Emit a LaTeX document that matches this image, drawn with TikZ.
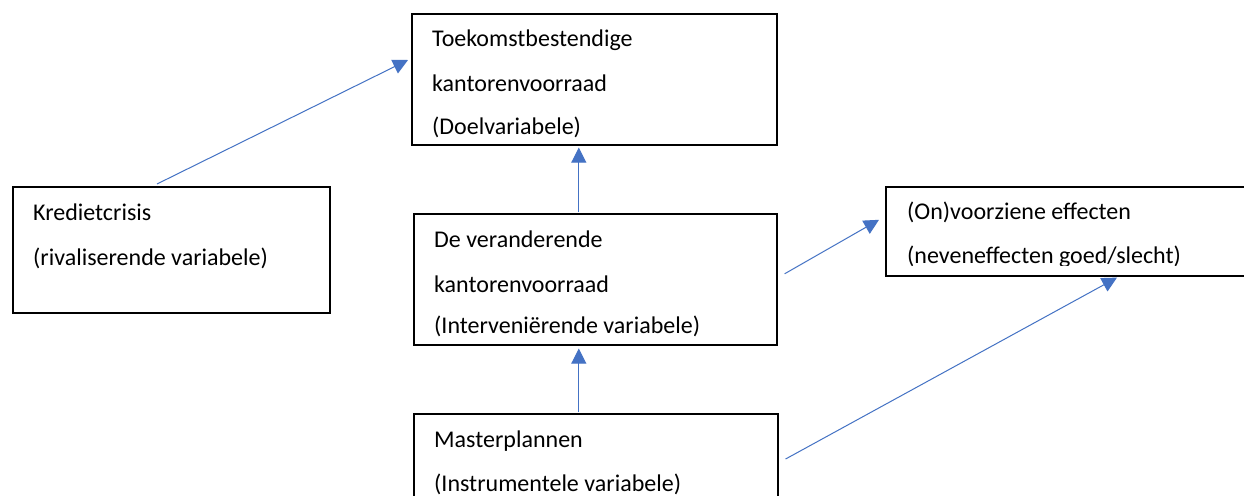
\documentclass[tikz,border=0pt]{standalone}
\usepackage{fontspec}
\setmainfont{Carlito}
\usetikzlibrary{arrows.meta}
\definecolor{wordblue}{HTML}{4472C4}
\begin{document}
\begin{tikzpicture}[x=1pt,y=-1pt,
  box/.style={draw=black, line width=1.6pt, inner sep=0pt, anchor=north west},
  lbl/.style={anchor=base west, inner sep=0pt, font=\fontsize{24}{28}\selectfont},
  conn/.style={draw=wordblue, line width=1pt, -{Triangle[length=15pt,width=15pt]}}]
\clip (0,0) rectangle (1244,495);
\fill[white] (0,0) rectangle (1244,495);
% boxes
\node[box, minimum width=365pt, minimum height=131pt] (top) at (411,13) {};
\node[box, minimum width=317pt, minimum height=126pt] (kred) at (12,186) {};
\node[box, minimum width=363pt, minimum height=131pt] (mid) at (413,213) {};
\node[box, minimum width=375pt, minimum height=89pt] (eff) at (885,186) {};
\node[box, minimum width=364pt, minimum height=110pt] (bot) at (413,413) {};
% texts
\begin{scope}
\clip (411,13) rectangle (776,137);
\node[lbl] (topa) at (432,47) {Toekomstbestendige};
\node[lbl] (topb) at (432,92) {kantorenvoorraad};
\node[lbl] (topc) at (432,134) {(Doelvariabele)};
\end{scope}
\node[lbl] (kreda) at (33,220) {Kredietcrisis};
\node[lbl] (kredb) at (33,265) {(rivaliserende variabele)};
\node[lbl] (mida) at (434,247) {De veranderende};
\node[lbl] (midb) at (434,292) {kantorenvoorraad};
\node[lbl] (midc) at (434,333) {(Interveniërende variabele)};
\begin{scope}
\clip (885,186) rectangle (1244,265);
\node[lbl] (effa) at (907,219) {(On)voorziene effecten};
\node[lbl] (effb) at (907,263) {(neveneffecten goed/slecht)};
\end{scope}
\node[lbl] (bota) at (434,447) {Masterplannen};
\node[lbl] (botb) at (434,491) {(Instrumentele variabele)};
% connectors
\coordinate (s1) at ([shift={(145,-2)}]kred.north west);
\draw[conn] (s1) -- ([shift={(-3,47)}]top.north west);
\draw[conn] ([shift={(-16.5,-1)}]mid.north) -- ([shift={(-15.5,2)}]top.south);
\coordinate (s3) at ([shift={(7,-5.5)}]mid.east);
\draw[conn] (s3) -- ([shift={(-6,-11.5)}]eff.west);
\draw[conn] ([shift={(-17,-1)}]bot.north) -- ([shift={(-16.5,3)}]mid.south);
\coordinate (s5) at ([shift={(7,46)}]bot.north east);
\draw[conn] (s5) -- ([shift={(232,1)}]eff.south west);
\end{tikzpicture}
\end{document}
